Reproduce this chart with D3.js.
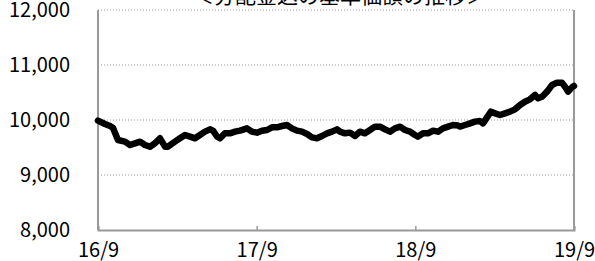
<!DOCTYPE html>
<html>
<head>
<meta charset="utf-8">
<script src="https://cdn.jsdelivr.net/npm/d3@7.9.0/dist/d3.min.js"></script>
<style>
  body { margin: 0; background: #fff; }
  svg { display: block; }
  text { font-family: "Noto Sans CJK JP", sans-serif; fill: #000; }
</style>
</head>
<body>
<svg width="595" height="261"></svg>
<script>
// months since 16/9 and NAV (with distributions)
const months = [0, 0.53, 0.91, 1.13, 1.51, 2.04, 2.42, 2.8, 3.18, 3.55, 3.93, 4.31, 4.69, 5.07, 5.29,
  5.82, 6.2, 6.58, 6.96, 7.34, 7.71, 8.09, 8.47, 8.7, 9.0, 9.23, 9.6, 9.98, 10.36, 10.74, 11.27,
  11.65, 12.02, 12.4, 12.78, 13.16, 13.54, 13.92, 14.29, 14.67, 15.05, 15.43, 15.81, 16.18, 16.56,
  16.94, 17.32, 17.7, 18.08, 18.3, 18.68, 19.06, 19.44, 19.81, 20.19, 20.57, 20.95, 21.33, 21.71,
  22.08, 22.46, 22.84, 23.22, 23.6, 23.97, 24.2, 24.58, 24.96, 25.34, 25.71, 26.09, 26.47, 26.85,
  27.23, 27.38, 27.76, 28.14, 28.51, 28.89, 29.12, 29.42, 29.72, 30.03, 30.4, 30.78, 31.16, 31.54,
  31.92, 32.29, 32.67, 33.05, 33.28, 33.58, 33.96, 34.34, 34.71, 35.09, 35.32, 35.55, 35.85, 36];
const nav = [9990, 9927, 9891, 9860, 9636, 9606, 9545, 9576, 9606, 9545, 9515, 9576, 9667, 9515, 9515,
  9606, 9667, 9727, 9697, 9667, 9727, 9788, 9830, 9806, 9700, 9667, 9758, 9758, 9788, 9806, 9848,
  9788, 9770, 9806, 9818, 9867, 9867, 9891, 9909, 9848, 9806, 9788, 9745, 9685, 9667,
  9709, 9758, 9788, 9830, 9788, 9758, 9770, 9709, 9788, 9758, 9818, 9879, 9879, 9830,
  9788, 9848, 9879, 9818, 9788, 9727, 9697, 9758, 9758, 9806, 9788, 9848, 9879, 9909,
  9900, 9880, 9909, 9939, 9970, 9982, 9939, 10048, 10152, 10121, 10091, 10121, 10152, 10194,
  10273, 10333, 10376, 10455, 10394, 10424, 10515, 10636, 10679, 10679, 10606, 10515, 10594, 10618];

const xTickMonths = [0, 12, 24, 36];
const xTickLabels = ["16/9", "17/9", "18/9", "19/9"];
const yTicks = [8000, 9000, 10000, 11000, 12000];
const title = "＜分配金込の基準価額の推移＞";

const svg = d3.select("svg");
const plotL = 98, plotR = 574, plotT = 10, plotB = 230;

const x = d3.scaleLinear().domain([0, 36]).range([plotL, plotR]);
const y = d3.scaleLinear().domain([8000, 12000]).range([plotB, plotT]);

// grid lines
svg.append("g").selectAll("line")
  .data(yTicks.filter(d => d > 8000))
  .join("line")
  .attr("x1", plotL).attr("x2", plotR)
  .attr("y1", d => y(d)).attr("y2", d => y(d))
  .attr("stroke", "#999")
  .attr("stroke-width", 1)
  .attr("stroke-dasharray", "1,2");

// right border
svg.append("line")
  .attr("x1", plotR).attr("x2", plotR).attr("y1", plotT).attr("y2", plotB)
  .attr("stroke", "#999").attr("stroke-width", 2);

// y axis labels
const yAxis = svg.append("g")
  .attr("transform", `translate(${plotL},0)`)
  .call(d3.axisLeft(y).tickValues(yTicks).tickSize(0).tickPadding(28).tickFormat(d3.format(",")));
yAxis.select(".domain").remove();
yAxis.selectAll("text").attr("font-size", 20).style("font-family", "'Noto Sans CJK JP', sans-serif");
svg.append("line")
  .attr("x1", plotL).attr("x2", plotL).attr("y1", plotT).attr("y2", plotB)
  .attr("stroke", "#999").attr("stroke-width", 2);

// x axis
const xAxis = svg.append("g")
  .attr("transform", `translate(0,${plotB})`)
  .call(d3.axisBottom(x).tickValues(xTickMonths).tickSize(-4).tickPadding(13)
    .tickFormat((d, i) => xTickLabels[i]));
xAxis.select(".domain").attr("stroke", "#999").attr("stroke-width", 2);
xAxis.selectAll(".tick line").attr("stroke", "#999").attr("stroke-width", 1.5);
xAxis.selectAll("text").attr("font-size", 20).style("font-family", "'Noto Sans CJK JP', sans-serif");

// line
const line = d3.line().x((d, i) => x(months[i])).y(d => y(d));
svg.append("path")
  .datum(nav)
  .attr("d", line)
  .attr("fill", "none")
  .attr("stroke", "#000")
  .attr("stroke-width", 6.5)
  .attr("stroke-linejoin", "round")
  .attr("stroke-linecap", "round");

// title (partly cut off at top)
svg.append("text")
  .attr("x", 340).attr("y", 3)
  .attr("text-anchor", "middle")
  .attr("font-size", 21)
  .text(title);
</script>
</body>
</html>
